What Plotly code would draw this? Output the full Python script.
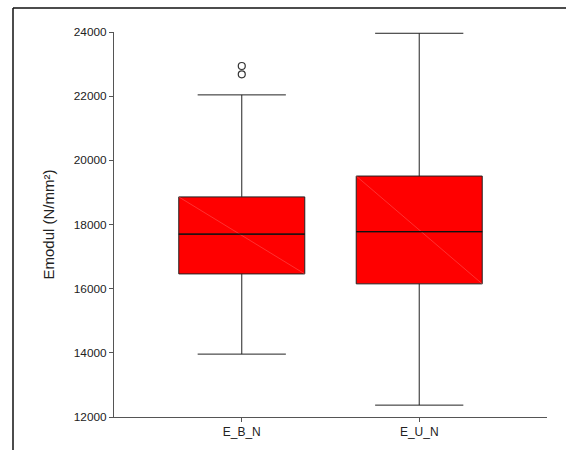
import plotly.graph_objects as go

# Box statistics for the modulus of elasticity (N/mm²)
categories = ["E_B_N", "E_U_N"]
q1 = [16460, 16150]
median = [17700, 17775]
q3 = [18860, 19510]
lower_whisker = [13960, 12370]
upper_whisker = [22040, 23960]
outlier_x = ["E_B_N", "E_B_N"]
outlier_y = [22940, 22680]

y_ticks = [12000, 14000, 16000, 18000, 20000, 22000, 24000]

pos = list(range(len(categories)))
pos_of = {c: i for i, c in enumerate(categories)}
box_width = 0.71

fig = go.Figure()

fig.add_trace(go.Box(
    x=pos,
    q1=q1,
    median=median,
    q3=q3,
    lowerfence=lower_whisker,
    upperfence=upper_whisker,
    width=box_width,
    whiskerwidth=0.7,
    fillcolor="#ff0000",
    line=dict(color="#222222", width=1),
    boxpoints=False,
    showlegend=False,
    hoverinfo="skip",
))

# thin light diagonal across each box, corner to corner
for i in pos:
    fig.add_trace(go.Scatter(
        x=[i - box_width / 2, i + box_width / 2],
        y=[q3[i], q1[i]],
        mode="lines",
        line=dict(color="rgba(255,130,130,0.75)", width=0.5),
        showlegend=False,
        hoverinfo="skip",
    ))

# outliers
fig.add_trace(go.Scatter(
    x=[pos_of[c] for c in outlier_x],
    y=outlier_y,
    mode="markers",
    marker=dict(symbol="circle-open", size=7, color="#333333", line=dict(width=1.2)),
    showlegend=False,
    hoverinfo="skip",
))

# median drawn again on top of the diagonal
for i in pos:
    fig.add_trace(go.Scatter(
        x=[i - box_width / 2, i + box_width / 2],
        y=[median[i], median[i]],
        mode="lines",
        line=dict(color="#111111", width=1.3),
        showlegend=False,
        hoverinfo="skip",
    ))

W, H = 566, 450
ml, mr, mt, mb = 114, 19, 32, 33
pw, ph = W - ml - mr, H - mt - mb

fig.update_layout(
    width=W,
    height=H,
    margin=dict(l=ml, r=mr, t=mt, b=mb, pad=0),
    paper_bgcolor="white",
    plot_bgcolor="white",
    font=dict(family="Liberation Sans, Arial, Helvetica, sans-serif", color="#222222", size=12),
    xaxis=dict(
        range=[-0.72, 1.72],
        tickvals=pos,
        ticktext=categories,
        showgrid=False,
        zeroline=False,
        showline=True,
        linecolor="#555555",
        linewidth=1,
        ticks="outside",
        ticklen=4,
        tickcolor="#555555",
        tickfont=dict(size=12),
    ),
    yaxis=dict(
        range=[12000, 24000],
        tickvals=y_ticks,
        ticktext=[str(v) for v in y_ticks],
        showgrid=False,
        zeroline=False,
        showline=True,
        linecolor="#555555",
        linewidth=1,
        ticks="outside",
        ticklen=4,
        tickcolor="#555555",
        tickfont=dict(size=11.8),
        title=dict(text="Emodul (N/mm²)", font=dict(size=15), standoff=15),
    ),
    shapes=[
        # outer frame (top and left edges)
        dict(type="line", xref="paper", yref="paper",
             x0=(13 - ml) / pw, x1=(W - ml) / pw,
             y0=(H - mb - 8) / ph, y1=(H - mb - 8) / ph,
             line=dict(color="#111111", width=1.5)),
        dict(type="line", xref="paper", yref="paper",
             x0=(13 - ml) / pw, x1=(13 - ml) / pw,
             y0=(H - mb - 8) / ph, y1=(H - mb - H) / ph,
             line=dict(color="#111111", width=1.5)),
    ],
)

fig.write_html("out.html")
